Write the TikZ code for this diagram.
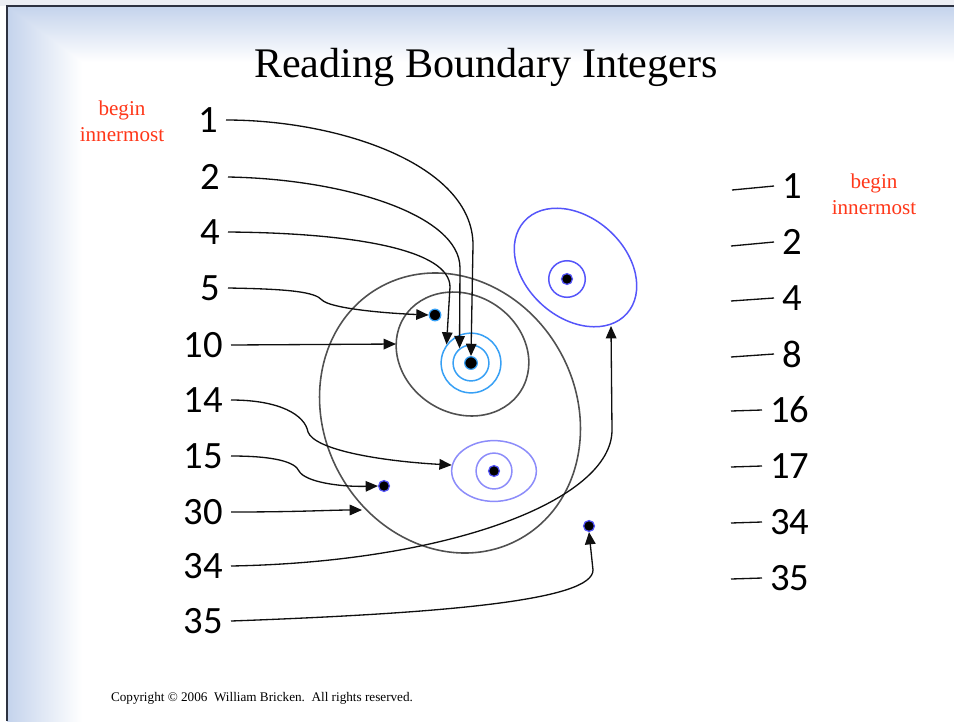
\documentclass[tikz,border=0pt]{standalone}
\usepackage{fontspec}
\setmainfont{Liberation Serif}
\newfontfamily\digitfont{Carlito}
\usepackage{tikz}
\usetikzlibrary{arrows.meta,shapes.geometric}
\definecolor{figline}{RGB}{15,15,15}
\definecolor{figpanel}{RGB}{196,211,236}
\definecolor{figframe}{RGB}{45,50,65}
\definecolor{figtop}{RGB}{236,238,244}
\definecolor{figred}{RGB}{255,55,25}
\definecolor{figgrey}{RGB}{80,80,80}
\definecolor{figcyan}{RGB}{55,160,245}
\definecolor{figlav}{RGB}{140,140,250}
\definecolor{figblue}{RGB}{85,85,250}
\tikzset{
  numl/.style ={font=\digitfont\fontsize{22}{24}\selectfont, anchor=east, inner xsep=4.5pt, inner ysep=0pt},
  numr/.style ={font=\digitfont\fontsize{22}{24}\selectfont, anchor=west, inner xsep=4.5pt, inner ysep=0pt},
  redtxt/.style ={font=\fontsize{12}{15}\selectfont, text=figred, align=center, inner sep=0pt},
  ptr/.style ={draw=figline, line width=0.75pt, -{Triangle[length=7pt,width=6pt]}},
  tk/.style  ={draw=figline, line width=0.75pt},
  ringg/.style ={draw=figgrey, line width=0.9pt},
  ringc/.style ={draw=figcyan, line width=0.85pt, circle, inner sep=0pt},
  ringl/.style ={draw=figlav, line width=0.85pt, inner sep=0pt},
  ringb/.style ={draw=figblue, line width=0.85pt},
  dotc/.style ={circle, fill=black, draw=figcyan, line width=0.7pt, minimum size=6.6pt, inner sep=0pt},
  dotb/.style ={circle, fill=black, draw=figblue, line width=0.7pt, minimum size=6.2pt, inner sep=0pt},
}

\begin{document}
\begin{tikzpicture}[x=0.02cm, y=-0.02cm]
  \useasboundingbox (0,0) rectangle (954,721);
  % slide background
  \fill[white] (0,0) rectangle (954,721);
  \fill[figtop] (0,0) rectangle (954,6);
  \begin{scope}[blend mode=darken]
  \shade[top color=figpanel, bottom color=white] (7,6) rectangle (954,62);
  \shade[left color=figpanel, right color=white] (7,6) rectangle (82,721);
  \end{scope}
  \draw[figframe, line width=1.1pt] (7,721) -- (7,6) -- (954,6);

  \node[anchor=base, font=\fontsize{24}{28}\selectfont] (title) at (486,77) {Reading Boundary Integers};
  \node[redtxt] (begl) at (122,121) {begin\\innermost};
  \node[redtxt] (begr) at (874,194) {begin\\innermost};

  % boundaries
  \draw[ringg, rotate around={29:(450,413)}] (450,413) ellipse [x radius=126, y radius=144];
  \draw[ringg, rotate around={-32:(462.5,354)}] (462.5,354) ellipse [x radius=69, y radius=59];
  \draw[ringb, rotate around={-42:(575.5,267.5)}] (575.5,267.5) ellipse [x radius=69, y radius=50];
  \node[ringc, minimum size=34pt] (r4) at (471,363) {};
  \node[ringc, minimum size=20.4pt] (r2) at (471,363) {};
  \node[ringl, ellipse, minimum width=48.2pt, minimum height=34.6pt] (e16) at (494,471) {};
  \node[ringl, circle, minimum size=20.4pt] (e17) at (494,471) {};
  \node[ringb, circle, minimum size=20.8pt, inner sep=0pt] (b2) at (567,279) {};
  \coordinate (t10) at (396,344);
  \coordinate (t30) at (362,510);
  \coordinate (t34) at (611,326);

  % dots
  \node[dotc, minimum size=7.2pt] (d1) at (471,363) {};
  \node[dotc] (d5) at (435,315) {};
  \node[dotb] (d17) at (494,471) {};
  \node[dotb] (d15) at (384,486) {};
  \node[dotb] (d35) at (589,526) {};
  \node[dotb] (db) at (567,279) {};

  % left integers
  \node[numl] (l1) at (226,120) {1};
  \node[numl] (l2) at (228,177) {2};
  \node[numl] (l4) at (228,232) {4};
  \node[numl] (l5) at (228,288) {5};
  \node[numl] (l10) at (231,345) {10};
  \node[numl] (l14) at (231,400) {14};
  \node[numl] (l15) at (231,456) {15};
  \node[numl] (l30) at (231,512) {30};
  \node[numl] (l34) at (231,566) {34};
  \node[numl] (l35) at (231,621) {35};

  \draw[ptr] (l1.east) .. controls (340,120) and (473,165) .. (473,245) -- (d1.north);
  \draw[ptr] (l2.east) .. controls (345,179) and (460,215) .. (460,268) -- (r2.128);
  \draw[ptr] (l4.east) .. controls (355,233) and (450,250) .. (450,287) -- (r4.143);
  \draw[ptr] (l5.east) .. controls (290,289) and (315,292) .. (322,300) .. controls (330,308) and (380,313) .. (d5.west);
  \draw[ptr] (l10.east) -- (t10);
  \draw[ptr] (l14.east) .. controls (280,400) and (305,415) .. (308,432) .. controls (315,450) and (380,461) .. (e16.172);
  \draw[ptr] (l15.east) .. controls (275,456) and (295,462) .. (299,471) .. controls (305,482) and (340,487) .. (d15.west);
  \draw[ptr] (l30.east) .. controls (300,512) and (330,510) .. (t30);
  \draw[ptr] (l34.east) .. controls (450,562) and (612,500) .. (612,430) -- (t34);
  \draw[ptr] (l35.east) .. controls (450,613) and (593,600) .. (593,570) -- (d35.south);

  % right integers
  \node[numr] (q1) at (774,186) {1};
  \node[numr] (q2) at (774,242) {2};
  \node[numr] (q4) at (774,298) {4};
  \node[numr] (q8) at (774,354) {8};
  \node[numr] (q16) at (762,410) {16};
  \node[numr] (q17) at (762,466) {17};
  \node[numr] (q34) at (762,522) {34};
  \node[numr] (q35) at (762,578) {35};
  \draw[tk] (q1.west) -- ++(-42,4);
  \draw[tk] (q2.west) -- ++(-43,4);
  \draw[tk] (q4.west) -- ++(-43,3);
  \draw[tk] (q8.west) -- ++(-43,3);
  \draw[tk] (q16.west) -- ++(-31,1);
  \draw[tk] (q17.west) -- ++(-31,1);
  \draw[tk] (q34.west) -- ++(-31,1);
  \draw[tk] (q35.west) -- ++(-31,1);

  \node[anchor=base, font=\fontsize{7.5}{9}\selectfont] (copy) at (262,701) {Copyright \textcopyright{} 2006\ \ William Bricken.\ \ All rights reserved.};
\end{tikzpicture}
\end{document}
